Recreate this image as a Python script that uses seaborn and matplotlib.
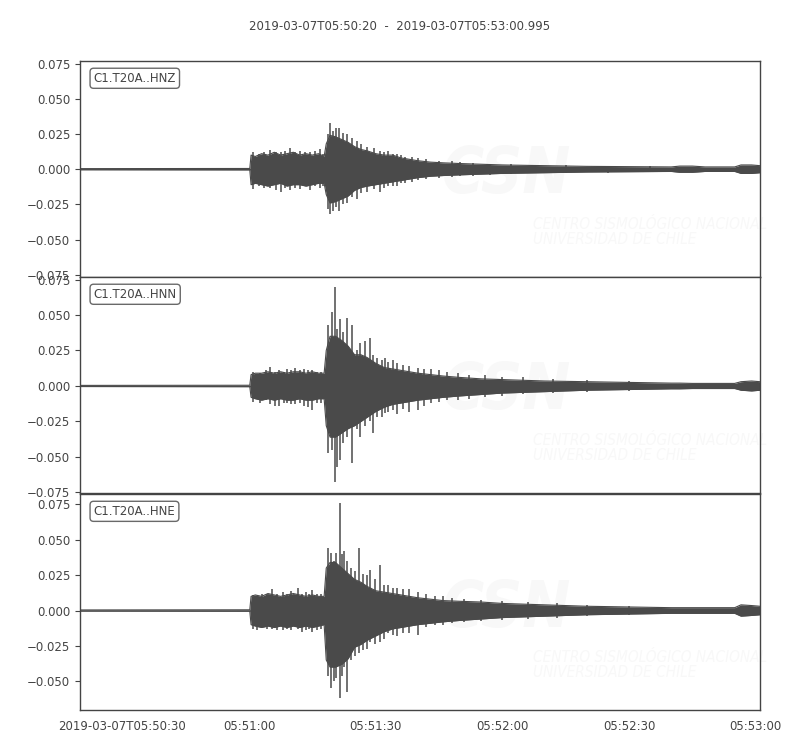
import numpy as np
import pandas as pd
import seaborn as sns
import matplotlib.pyplot as plt
from matplotlib.ticker import MultipleLocator

# tempo in secondi dall'inizio (2019-03-07T05:50:20)
title = '2019-03-07T05:50:20  -  2019-03-07T05:53:00.995'
t_end = 160.995
tick_pos = [10, 40, 70, 100, 130, 160]
tick_labels = ['2019-03-07T05:50:30', '05:51:00', '05:51:30', '05:52:00', '05:52:30', '05:53:00']
channels = ['C1.T20A..HNZ', 'C1.T20A..HNN', 'C1.T20A..HNE']
ylims = [(-0.0765, 0.0768), (-0.0754, 0.0768), (-0.0704, 0.0824)]

# inviluppo (stessi istanti per i tre canali)
env_t = [0, 40.2, 40.5, 41.5, 43, 44.5, 46, 47.5, 49, 50.5, 52, 53.5, 55, 56.5, 57.8,
         58.3, 59.2, 60.5, 62, 63.5, 65, 66.5, 68, 70, 72, 74, 76, 78, 80, 83, 86, 90,
         95, 100, 110, 120, 130, 140, 142, 145, 148, 155, 156.5, 159, 161]

hnz_hi = [.0004, .0005, .010, .009, .011, .010, .012, .010, .011, .012, .010, .011, .010, .011, .009,
          .018, .024, .023, .021, .019, .016, .014, .013, .011, .010, .010, .008, .007, .006, .005, .0045, .004,
          .0035, .003, .0025, .002, .0018, .0016, .0022, .0022, .0016, .0016, .003, .003, .0025]
hnz_lo = [-.0004, -.0005, -.011, -.010, -.011, -.012, -.011, -.010, -.012, -.011, -.011, -.012, -.011, -.010, -.010,
          -.018, -.024, -.023, -.021, -.019, -.015, -.013, -.012, -.011, -.010, -.009, -.008, -.007, -.006, -.005, -.0045, -.004,
          -.0035, -.003, -.0025, -.002, -.0018, -.0016, -.0022, -.0022, -.0016, -.0016, -.003, -.003, -.0025]

hnn_hi = [.0004, .0005, .008, .009, .009, .010, .009, .010, .009, .010, .010, .009, .010, .009, .009,
          .025, .035, .035, .032, .028, .022, .022, .020, .016, .013, .012, .011, .010, .009, .008, .007, .006,
          .005, .0045, .0035, .003, .0025, .002, .002, .0018, .0018, .0018, .003, .0035, .003]
hnn_lo = [-.0004, -.0005, -.008, -.009, -.010, -.009, -.010, -.009, -.010, -.010, -.009, -.010, -.010, -.009, -.009,
          -.028, -.036, -.036, -.033, -.030, -.028, -.025, -.022, -.018, -.015, -.013, -.012, -.011, -.010, -.009, -.008, -.007,
          -.006, -.005, -.004, -.003, -.0025, -.002, -.002, -.0018, -.0018, -.0018, -.003, -.0035, -.003]

hne_hi = [.0004, .0005, .010, .011, .010, .012, .011, .010, .011, .012, .011, .010, .011, .010, .010,
          .030, .034, .034, .030, .026, .022, .020, .017, .014, .013, .012, .011, .010, .009, .008, .007, .0065,
          .006, .005, .004, .003, .0025, .002, .002, .002, .002, .002, .004, .0035, .003]
hne_lo = [-.0004, -.0005, -.010, -.011, -.012, -.011, -.012, -.011, -.012, -.011, -.012, -.011, -.012, -.011, -.010,
          -.035, -.040, -.040, -.038, -.034, -.026, -.024, -.021, -.018, -.015, -.013, -.012, -.011, -.010, -.009, -.008, -.007,
          -.006, -.005, -.004, -.003, -.0025, -.002, -.002, -.002, -.002, -.002, -.004, -.0035, -.003]

# picchi singoli (istante, massimo, minimo)
hnz_spk_t = [41.0, 42.3, 43.6, 45.0, 46.3, 47.5, 48.6, 49.7, 51.0, 52, 53.2, 54.4, 55.6, 56.8, 57.5,
             58.6, 59.2, 59.9, 60.5, 61.3, 62.2, 63.2, 64.3, 65.5, 66.6, 67.9, 69.5, 71, 72, 73, 74, 75,
             76, 77, 78.5, 80, 82, 85, 88, 90, 93, 97, 102, 107, 115, 125, 135]
hnz_spk_hi = [.012, .011, .012, .0134, .012, .012, .013, .015, .012, .013, .012, .012, .013, .014, .011,
              .025, .033, .027, .029, .029, .026, .025, .022, .020, .018, .0155, .015, .013, .012, .013, .011, .011,
              .010, .009, .009, .008, .007, .006, .0055, .005, .0045, .004, .0035, .003, .0028, .0024, .002]
hnz_spk_lo = [-.014, -.012, -.013, -.013, -.015, -.016, -.013, -.015, -.013, -.014, -.012, -.015, -.012, -.013, -.012,
              -.028, -.032, -.030, -.027, -.030, -.025, -.024, -.020, -.021, -.017, -.016, -.014, -.016, -.013, -.012, -.012, -.012,
              -.010, -.010, -.009, -.008, -.007, -.006, -.0055, -.005, -.0045, -.004, -.0035, -.003, -.0028, -.0024, -.002]

hnn_spk_t = [41, 42.5, 44, 45, 46.2, 47, 48.2, 49, 50, 51, 52, 53, 54, 55, 56, 57, 58.7, 59.6, 60.3, 60.9,
             61.5, 62.3, 63.2, 64.3, 65.5, 66.2, 67.4, 68.6, 69.3, 70.4, 71.4, 72.2, 73, 74, 75, 76.5, 78, 80,
             81.5, 83, 85, 87, 89.5, 92, 96, 100, 105, 112, 120, 130]
hnn_spk_hi = [.010, .009, .011, .0134, .010, .011, .010, .012, .011, .0127, .011, .012, .011, .011, .010, .010,
              .043, .052, .070, .040, .047, .038, .048, .043, .025, .030, .032, .034, .022, .020, .018, .020, .017,
              .018, .016, .015, .014, .013, .012, .012, .011, .010, .009, .008, .0075, .0065, .006, .005, .004, .0035]
hnn_spk_lo = [-.011, -.012, -.010, -.013, -.014, -.014, -.012, -.012, -.013, -.013, -.012, -.014, -.015, -.017, -.012,
              -.012, -.047, -.045, -.068, -.057, -.052, -.040, -.036, -.054, -.030, -.036, -.028, -.025, -.033, -.022,
              -.022, -.019, -.018, -.017, -.020, -.016, -.018, -.017, -.014, -.012, -.011, -.010, -.010, -.009, -.008,
              -.007, -.006, -.005, -.004, -.0035]

hne_spk_t = [41, 42, 43, 44.2, 45.5, 46.7, 48, 49, 50, 51.6, 52.5, 53.5, 54.3, 55, 56, 57, 58.7, 59.4, 60.1,
             60.7, 61.5, 62.0, 62.5, 63.2, 64.2, 65, 66, 67, 67.9, 68.6, 69.8, 71, 72, 73, 74, 75, 76.5, 78, 80,
             82, 84, 86, 88, 91, 95, 100, 106, 113, 120, 130]
hne_spk_hi = [.011, .010, .012, .012, .0155, .012, .013, .012, .014, .016, .012, .013, .012, .0146, .012, .012,
              .044, .041, .035, .041, .076, .040, .042, .035, .030, .028, .044, .026, .025, .029, .022, .032, .018,
              .018, .016, .016, .015, .015, .013, .012, .010, .010, .009, .008, .0075, .0065, .006, .005, .004, .0035]
hne_spk_lo = [-.013, -.014, -.012, -.013, -.013, -.014, -.014, -.013, -.014, -.013, -.015, -.014, -.013, -.015, -.014,
              -.013, -.046, -.055, -.050, -.048, -.062, -.046, -.040, -.058, -.035, -.032, -.030, -.028, -.027, -.022,
              -.024, -.022, -.020, -.016, -.017, -.018, -.016, -.016, -.0176, -.012, -.010, -.010, -.009, -.008,
              -.0075, -.0065, -.006, -.005, -.004, -.0035]

envelopes = [(hnz_hi, hnz_lo), (hnn_hi, hnn_lo), (hne_hi, hne_lo)]
spikes = [(hnz_spk_t, hnz_spk_hi, hnz_spk_lo), (hnn_spk_t, hnn_spk_hi, hnn_spk_lo),
          (hne_spk_t, hne_spk_hi, hne_spk_lo)]

sns.set_style('white')
plt.rcParams['font.family'] = ['DejaVu Sans']
plt.rcParams['axes.unicode_minus'] = True

trace_col = '#4a4a4a'
text_col = '#444444'
fs = 8.5

fig = plt.figure(figsize=(8, 7.5), dpi=100)
bottoms = [0.6307, 0.3427, 0.0533]
height = 0.288

for i, ch in enumerate(channels):
    ax = fig.add_axes([0.1, bottoms[i], 0.85, height])
    hi, lo = envelopes[i]
    df = pd.DataFrame({'t': env_t, 'hi': hi, 'lo': lo})
    ax.fill_between(df['t'], df['lo'], df['hi'], color=trace_col, lw=0)
    sns.lineplot(data=df, x='t', y='hi', ax=ax, color=trace_col, lw=0.8)
    sns.lineplot(data=df, x='t', y='lo', ax=ax, color=trace_col, lw=0.8)
    st, sh, sl = spikes[i]
    ax.vlines(st, sl, sh, color=trace_col, lw=1.1)

    # logo in filigrana
    ax.text(0.628, 0.47, 'CSN', transform=ax.transAxes, ha='center', va='center',
            fontsize=46, fontweight='bold', fontstyle='italic', fontstretch='condensed',
            color='#f8f8f8', zorder=0)
    ax.text(0.666, 0.207, 'CENTRO SISMOLÓGICO NACIONAL\nUNIVERSIDAD DE CHILE', transform=ax.transAxes,
            ha='left', va='center', fontsize=11, fontstyle='italic', fontstretch='condensed',
            color='#f8f8f8', zorder=0, linespacing=1.0)

    ax.set_xlim(0, t_end)
    ax.set_ylim(*ylims[i])
    ax.yaxis.set_major_locator(MultipleLocator(0.025))
    ax.set_xlabel('')
    ax.set_ylabel('')
    ax.set_xticks(tick_pos)
    if i == 2:
        ax.set_xticklabels(tick_labels)
    else:
        ax.tick_params(axis='x', bottom=False, labelbottom=False)
    ax.tick_params(axis='both', direction='out', length=3.5, width=0.8, colors=text_col,
                   labelsize=fs, left=True)
    for sp in ax.spines.values():
        sp.set_color(text_col)
        sp.set_linewidth(1.0)
    ax.text(0.02, 0.95, ch, transform=ax.transAxes, va='top', ha='left', fontsize=fs,
            color=text_col, bbox=dict(boxstyle='round', fc='w', ec=text_col, alpha=0.8))

fig.suptitle(title, y=0.973, fontsize=fs, color=text_col)
fig.savefig('out.png', dpi=100)
